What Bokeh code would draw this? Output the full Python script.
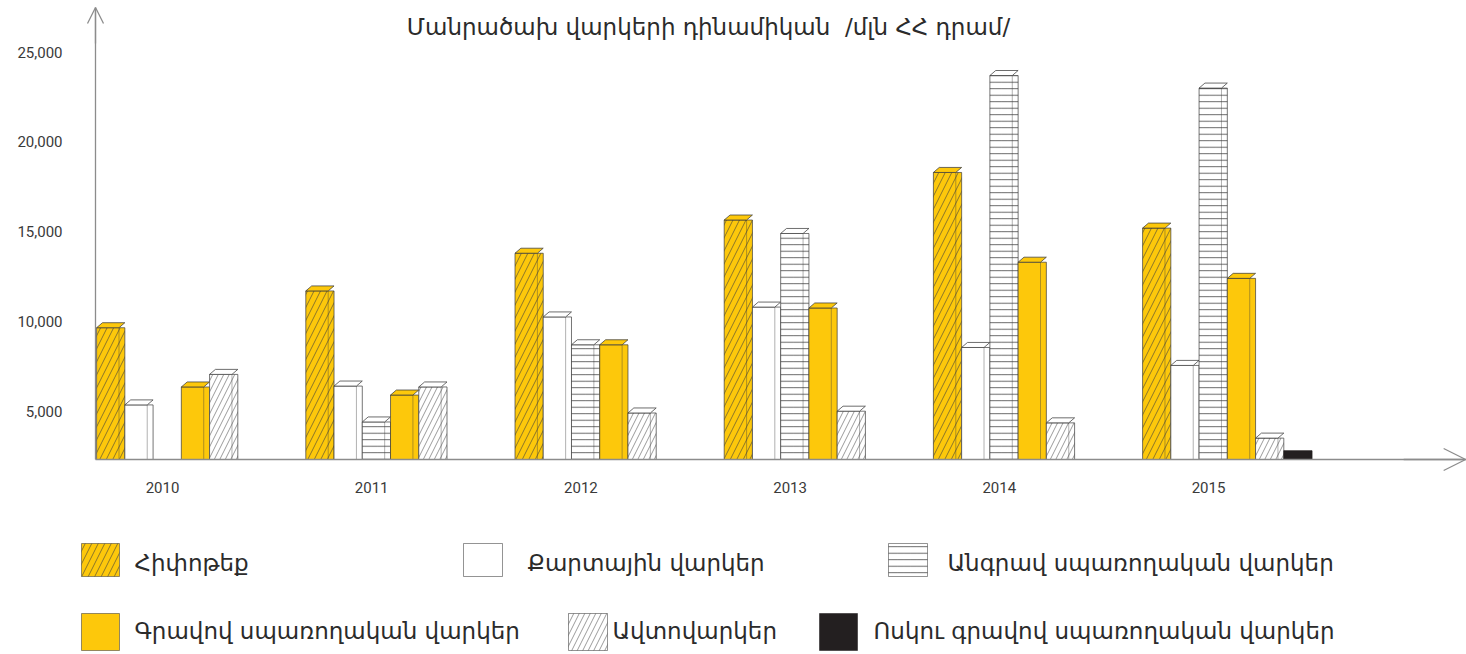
import numpy as np
from bokeh.plotting import figure
from bokeh.layouts import column
from bokeh.models import Range1d, FixedTicker, Arrow, OpenHead, Label, NumeralTickFormatter
from bokeh.embed import file_html
from bokeh.resources import INLINE
from bokeh.core.properties import value

# ---- data (million AMD) ----
years = ["2010", "2011", "2012", "2013", "2014", "2015"]
series_names = [
    "Հիփոթեք",
    "Քարտային վարկեր",
    "Անգրավ սպառողական վարկեր",
    "Գրավով սպառողական վարկեր",
    "Ավտովարկեր",
    "Ոսկու գրավով սպառողական վարկեր",
]
mortgage = [9650, 11700, 13800, 15650, 18300, 15200]
card_loans = [5350, 6400, 10250, 10800, 8550, 7550]
unsecured_loans = [np.nan, 4400, 8700, 14900, 23700, 23000]
secured_loans = [6350, 5900, 8700, 10750, 13300, 12400]
auto_loans = [7050, 6350, 4900, 5000, 4350, 3500]
gold_loans = [np.nan, np.nan, np.nan, np.nan, np.nan, 2800]
y_ticks = [5000, 10000, 15000, 20000, 25000]
title_text = "Մանրածախ վարկերի դինամիկան\u00a0 /մլն ՀՀ դրամ/"

# ---- styling ----
YELLOW = "#FDC80B"
INK = "#3c3c3c"
AXIS = "#8c8c8c"
AR_FONT = "DejaVu Sans"
NUM_FONT = "Roboto"

# plot area spans the whole upper canvas; axes sit inside it
X_START, X_END = -0.7744, 6.2333
Y_START, Y_END = -532, 27880
X_AXIS_AT = -0.3203      # where the value axis stands
Y_BASE = 2309            # where the category axis stands
Y_ARROW = 27490          # tip of the value axis
GROUP_SHIFT = 0.09
BAR_W = 0.135
CAP_DX = 0.028
CAP_DY = 280

styles = [
    dict(fill_color=YELLOW, hatch_pattern="/", hatch_color=INK, hatch_alpha=0.75, hatch_scale=13, hatch_weight=0.8),
    dict(fill_color="white"),
    dict(fill_color="white", hatch_pattern="-", hatch_color="#2e2e2e", hatch_alpha=0.8, hatch_scale=6.5, hatch_weight=0.9),
    dict(fill_color=YELLOW),
    dict(fill_color="white", hatch_pattern="/", hatch_color="#555555", hatch_alpha=0.75, hatch_scale=11, hatch_weight=0.8),
    dict(fill_color="#231F20"),
]
all_series = [mortgage, card_loans, unsecured_loans, secured_loans, auto_loans, gold_loans]

p = figure(width=1466, height=510, x_range=Range1d(X_START, X_END), y_range=Range1d(Y_START, Y_END),
           output_backend="svg", toolbar_location=None,
           min_border_left=0, min_border_right=0, min_border_top=0, min_border_bottom=0)
p.outline_line_color = None
p.grid.visible = False
p.background_fill_color = "white"

idx = np.arange(len(years))
for j, (vals, st) in enumerate(zip(all_series, styles)):
    vals = np.asarray(vals, dtype=float)
    xs = idx + GROUP_SHIFT + (j - 2.5) * BAR_W
    ok = ~np.isnan(vals)
    xs, vals = xs[ok], vals[ok]
    is_gold = j == 5
    p.vbar(x=xs, top=vals, bottom=Y_BASE, width=BAR_W,
           line_color=INK if not is_gold else "#231F20", line_alpha=0.7, line_width=1, **st)
    if is_gold:
        continue
    left = xs - BAR_W / 2
    right = xs + BAR_W / 2
    cap_x = [[l, l + CAP_DX, r, r - CAP_DX] for l, r in zip(left, right)]
    cap_y = [[v, v + CAP_DY, v + CAP_DY, v] for v in vals]
    p.patches(cap_x, cap_y, fill_color=st["fill_color"], line_color=INK, line_alpha=0.75, line_width=1)
    # back edge of the side face
    p.segment(x0=right - CAP_DX, y0=vals, x1=right - CAP_DX, y1=np.full_like(vals, Y_BASE),
              line_color=INK, line_alpha=0.5, line_width=0.8)

# axes, placed inside the plot area
for ax in (p.xaxis[0], p.yaxis[0]):
    ax.axis_line_color = AXIS
    ax.axis_line_width = 1.3
    ax.major_tick_line_color = None
    ax.minor_tick_line_color = None
    ax.major_tick_out = 0
    ax.major_tick_in = 0
    ax.major_label_text_font = NUM_FONT
    ax.major_label_text_font_size = "15px"
    ax.major_label_text_color = "#3a3a3a"

p.yaxis.fixed_location = X_AXIS_AT
p.yaxis.bounds = (Y_BASE, Y_ARROW)
p.yaxis.ticker = FixedTicker(ticks=y_ticks)
p.yaxis.formatter = NumeralTickFormatter(format="0,0")
p.yaxis.major_label_standoff = 33

p.xaxis.fixed_location = Y_BASE
p.xaxis.bounds = (X_AXIS_AT, X_END)
p.xaxis.ticker = FixedTicker(ticks=list(range(len(years))))
p.xaxis.major_label_overrides = {i: y for i, y in enumerate(years)}
p.xaxis.major_label_standoff = 22

p.add_layout(Arrow(end=OpenHead(size=16, line_color=AXIS, line_width=1.3),
                   x_start=X_AXIS_AT, y_start=Y_ARROW - 2000, x_end=X_AXIS_AT, y_end=Y_ARROW,
                   line_color=AXIS, line_width=1.3))
p.add_layout(Arrow(end=OpenHead(size=22, line_color=AXIS, line_width=1.3),
                   x_start=X_END - 0.3, y_start=Y_BASE, x_end=X_END - 0.004, y_end=Y_BASE,
                   line_color=AXIS, line_width=1.3))

p.add_layout(Label(x=2.61, y=26376, text=title_text, text_align="center", text_baseline="middle",
                   text_font=AR_FONT, text_font_size="23px", text_color="#2b2b2b"))

# ---- legend strip ----
lg = figure(width=1466, height=144, x_range=Range1d(0, 1466), y_range=Range1d(144, 0),
            output_backend="svg", toolbar_location=None,
            min_border_left=0, min_border_right=0, min_border_top=0, min_border_bottom=0)
lg.axis.visible = False
lg.grid.visible = False
lg.outline_line_color = None

sw_left = [81, 463, 888, 81, 568, 819]
sw_right = [119, 502, 927, 119, 607, 857]
sw_top = [33, 33, 33, 103, 103, 103]
sw_bottom = [66, 66, 66, 140, 140, 140]
txt_x = [134, 527, 947, 134, 612, 873]
txt_y = [52, 52, 52, 120, 120, 120]
for k in range(6):
    lg.quad(left=[sw_left[k]], right=[sw_right[k]], top=[sw_top[k]], bottom=[sw_bottom[k]],
            line_color=INK if k != 5 else "#231F20", line_alpha=0.55, line_width=1, **styles[k])
    lg.text(x=[txt_x[k]], y=[txt_y[k]], text=[series_names[k]], text_font=value(AR_FONT),
            text_font_size="23px", text_color="#2b2b2b", text_baseline="middle", text_align="left")

layout = column(p, lg)
open("out.html", "w").write(file_html(layout, INLINE))
